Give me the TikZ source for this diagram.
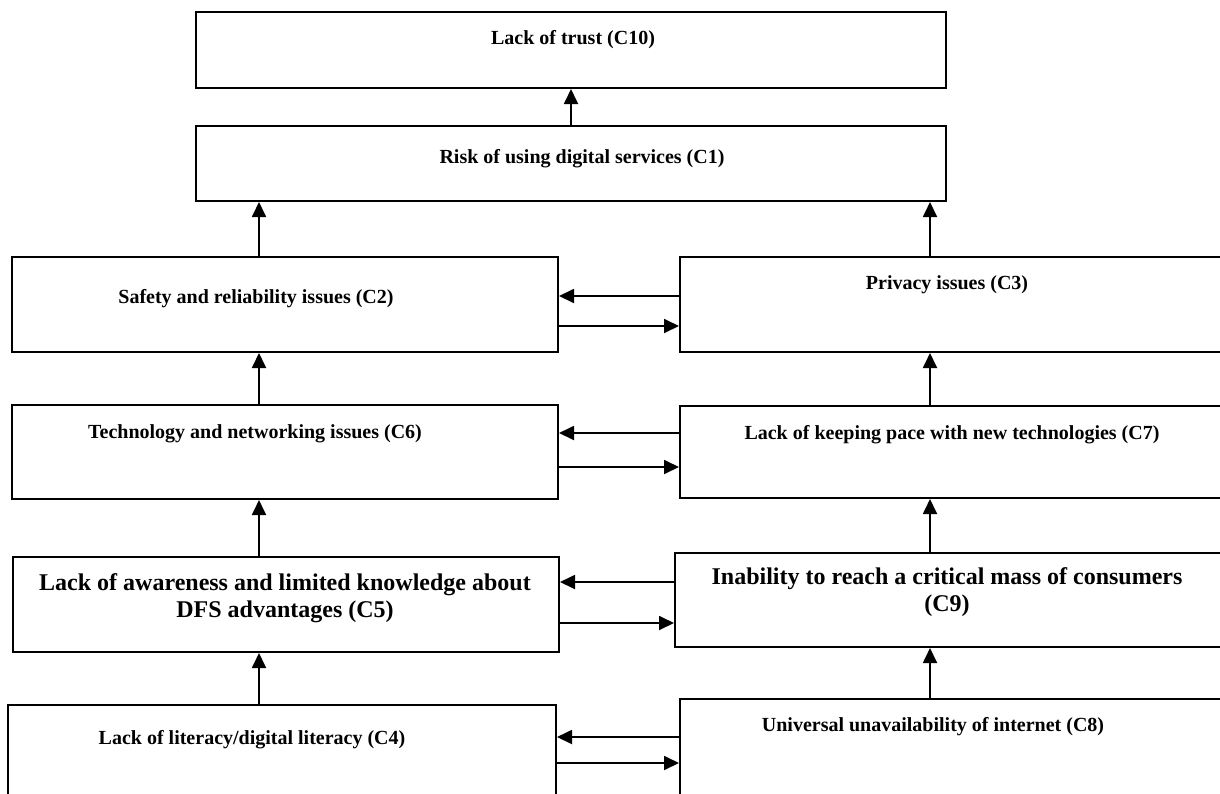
\documentclass[tikz,border=0pt]{standalone}
\usepackage{fontspec}
\setmainfont{Liberation Serif}
\usetikzlibrary{arrows.meta}

\begin{document}
\begin{tikzpicture}[x=0.5pt,y=-0.5pt,
  box/.style={draw,line width=1pt,rectangle,inner sep=0pt},
  txt/.style={font=\bfseries\fontsize{10}{12.5}\selectfont,align=center,inner sep=0pt},
  bigtxt/.style={txt,font=\bfseries\fontsize{12}{13.5}\selectfont},
  link/.style={line width=0.9pt,-{Triangle[length=7.5pt,width=7pt]}}]
\useasboundingbox (0,0) rectangle (1220,793);
\clip (0,0) rectangle (1220,793);
% boxes
\node[box,minimum width=375pt,minimum height=38pt] (c10) at (571,50) {};
\node[box,minimum width=375pt,minimum height=37.5pt] (c1) at (571,163.5) {};
\node[box,minimum width=273pt,minimum height=47.5pt] (c2) at (285,304.5) {};
\node[box,minimum width=280pt,minimum height=47.5pt] (c3) at (960,304.5) {};
\node[box,minimum width=273pt,minimum height=47pt] (c6) at (285,452) {};
\node[box,minimum width=280pt,minimum height=46pt] (c7) at (960,452) {};
\node[box,minimum width=273pt,minimum height=47.5pt] (c5) at (286,604.5) {};
\node[box,minimum width=282.5pt,minimum height=47pt] (c9) at (957.5,600) {};
\node[box,minimum width=274pt,minimum height=52.5pt] (c4) at (282,757.5) {};
\node[box,minimum width=280pt,minimum height=55.5pt] (c8) at (960,754.5) {};
% texts
\node[txt] (t10) at (573,40) {Lack of trust (C10)};
\node[txt] (t1) at (582,159) {Risk of using digital services (C1)};
\node[txt] (t2) at (256,299) {Safety and reliability issues (C2)};
\node[txt] (t3) at (947,285) {Privacy issues (C3)};
\node[txt] (t6) at (255,434) {Technology and networking issues (C6)};
\node[txt] (t7) at (952,435) {Lack of keeping pace with new technologies (C7)};
\node[bigtxt] (t5) at (285,598) {Lack of awareness and limited knowledge about\\DFS advantages (C5)};
\node[bigtxt] (t9) at (947,592) {Inability to reach a critical mass of consumers\\(C9)};
\node[txt] (t4) at (252,740) {Lack of literacy/digital literacy (C4)};
\node[txt] (t8) at (933,727) {Universal unavailability of internet (C8)};
% upward links
\draw[link] (c1.north -| 571,0) -- (c10.south -| 571,0);
\draw[link] (c2.north -| 259,0) -- (c1.south -| 259,0);
\draw[link] (c3.north -| 930,0) -- (c1.south -| 930,0);
\draw[link] (c6.north -| 259,0) -- (c2.south -| 259,0);
\draw[link] (c7.north -| 930,0) -- (c3.south -| 930,0);
\draw[link] (c5.north -| 259,0) -- (c6.south -| 259,0);
\draw[link] (c9.north -| 930,0) -- (c7.south -| 930,0);
\draw[link] (c4.north -| 259,0) -- (c5.south -| 259,0);
\draw[link] (c8.north -| 930,0) -- (c9.south -| 930,0);
% side links
\draw[link] (c3.west |- 0,296) -- (c2.east |- 0,296);
\draw[link] (c2.east |- 0,326) -- (c3.west |- 0,326);
\draw[link] (c7.west |- 0,433) -- (c6.east |- 0,433);
\draw[link] (c6.east |- 0,467) -- (c7.west |- 0,467);
\draw[link] (c9.west |- 0,582) -- (c5.east |- 0,582);
\draw[link] (c5.east |- 0,623) -- (c9.west |- 0,623);
\draw[link] (c8.west |- 0,737) -- (c4.east |- 0,737);
\draw[link] (c4.east |- 0,763) -- (c8.west |- 0,763);
\end{tikzpicture}
\end{document}
